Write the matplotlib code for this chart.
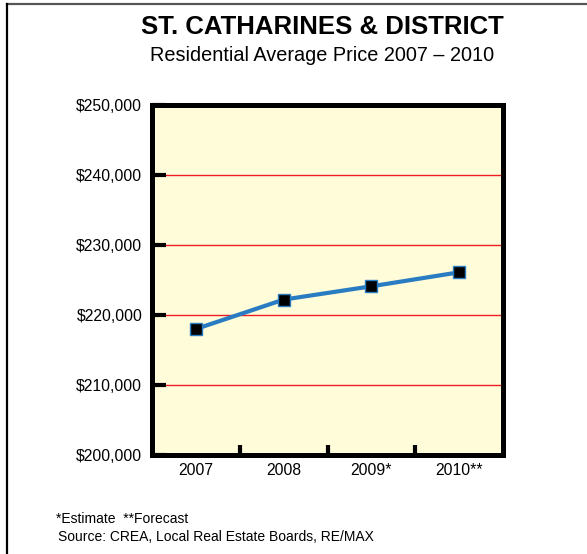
import numpy as np
import matplotlib.pyplot as plt
from matplotlib.lines import Line2D

plt.rcParams['font.family'] = ['Liberation Sans', 'DejaVu Sans']

# Data
years = ["2007", "2008", "2009*", "2010**"]
avg_price = [218000, 222200, 224100, 226100]
y_ticks = [200000, 210000, 220000, 230000, 240000, 250000]
y_tick_labels = ["$200,000", "$210,000", "$220,000", "$230,000", "$240,000", "$250,000"]

fig = plt.figure(figsize=(5.87, 5.54), dpi=100)
ax = fig.add_axes([152 / 587, 1 - 455 / 554, 351 / 587, 350 / 554])
ax.set_facecolor("#fffcd9")

x = np.arange(len(years))

# Red gridlines (not at the limits)
for v in y_ticks[1:-1]:
    ax.axhline(v, color="#ee1c25", lw=1.0, zorder=1)

ax.plot(x, avg_price, color="#2a7cc2", lw=3, marker="s", markersize=8.5,
        markerfacecolor="black", markeredgecolor="#2a7cc2", markeredgewidth=1,
        zorder=3)

ax.set_xlim(-0.5, len(years) - 0.5)
ax.set_ylim(y_ticks[0], y_ticks[-1])

ax.set_yticks(y_ticks)
ax.set_yticklabels(y_tick_labels, fontsize=11.3)
ax.tick_params(axis="y", direction="in", length=10, width=3, pad=7)

# x ticks sit between the categories, labels under the categories
ax.set_xticks(x[:-1] + 0.5)
ax.set_xticklabels([])
ax.set_xticks(x, minor=True)
ax.set_xticklabels(years, minor=True, fontsize=11.3)
ax.tick_params(axis="x", which="major", direction="in", length=7, width=3)
ax.tick_params(axis="x", which="minor", length=0, pad=6)

for s in ax.spines.values():
    s.set_linewidth(3.6)
    s.set_color("black")

fig.text(0.549, 0.951, "ST. CATHARINES & DISTRICT", ha="center", va="center",
         fontsize=18.5, fontweight="bold")
fig.text(0.549, 0.899, "Residential Average Price 2007 \u2013 2010", ha="center",
         va="center", fontsize=14.3)

fig.text(56 / 587, 1 - 519 / 554, "*Estimate  **Forecast", ha="left", va="center",
         fontsize=10)
fig.text(58 / 587, 1 - 537 / 554, "Source: CREA, Local Real Estate Boards, RE/MAX",
         ha="left", va="center", fontsize=10)

# outer frame (top and left edges visible)
fig.add_artist(Line2D([7 / 587, 1], [1 - 3.5 / 554, 1 - 3.5 / 554],
                      transform=fig.transFigure, color="#555555", lw=1.6))
fig.add_artist(Line2D([7 / 587, 7 / 587], [0, 1 - 3.5 / 554],
                      transform=fig.transFigure, color="black", lw=1.6))

fig.savefig("out.png", dpi=100)
